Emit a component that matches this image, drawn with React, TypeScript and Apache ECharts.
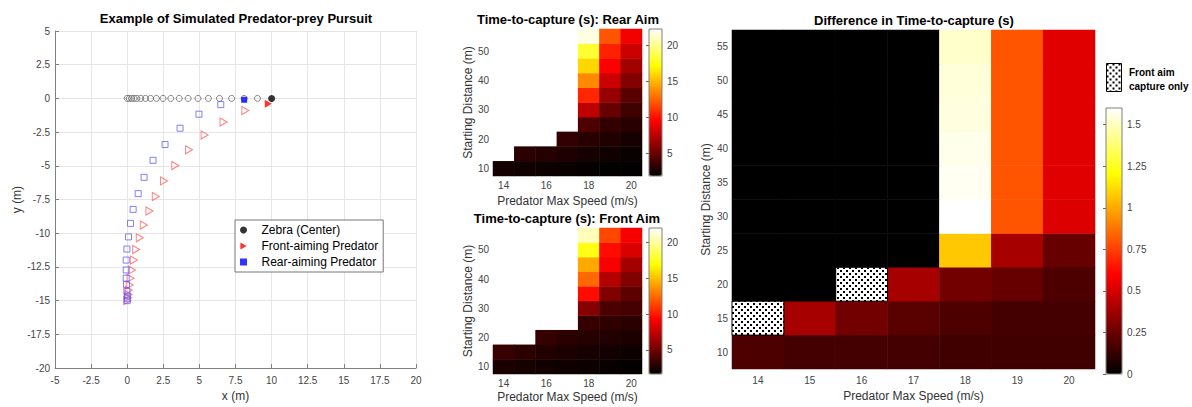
import React, { useEffect, useRef } from 'react';
import * as echarts from 'echarts';

const FONT = "'Liberation Sans', Arial, Helvetica, sans-serif";

// ---------- Data: pursuit example ----------
const zebraTrailX = [0, 0.14, 0.3, 0.47, 0.67, 0.94, 1.26, 1.62, 2.02, 2.48, 3.02, 3.6, 4.22, 4.9, 5.62, 6.39, 7.23, 8.1, 9.02];
const zebraFinal = [10, 0];
const frontTrail = [
  [8.18, -0.9], [6.67, -1.75], [5.36, -2.72], [4.28, -3.81], [3.33, -4.98], [2.55, -6.12], [1.98, -7.28],
  [1.54, -8.35], [1.15, -9.39], [0.87, -10.34], [0.62, -11.21], [0.46, -11.99], [0.34, -12.72], [0.23, -13.33],
  [0.18, -13.83], [0.11, -14.22], [0.09, -14.54], [0.05, -14.78], [0, -15],
];
const frontFinal = [9.77, -0.39];
const rearTrail = [
  [6.48, -0.46], [4.97, -1.17], [3.66, -2.21], [2.62, -3.42], [1.79, -4.59], [1.17, -5.85], [0.76, -7.06],
  [0.41, -8.23], [0.23, -9.27], [0.09, -10.27], [-0.02, -11.17], [-0.07, -11.99], [-0.07, -12.72], [-0.07, -13.33],
  [-0.05, -13.81], [-0.02, -14.3], [0, -14.66], [0.02, -14.86], [0, -15],
];
const rearFinal = [8.1, -0.1];

// ---------- Data: heatmaps ----------
const speeds = ['14', '15', '16', '17', '18', '19', '20'];
const distances = ['10', '15', '20', '25', '30', '35', '40', '45', '50', '55'];

// rows = distances (10..55), cols = speeds (14..20); null = no capture
const rearTTC: (number | null)[][] = [
  [2.5, 2.4, 2.3, 2.2, 2.1, 2.0, 1.95],
  [null, 3.2, 3.0, 2.8, 2.6, 2.4, 2.2],
  [null, null, null, 3.4, 3.1, 2.9, 2.6],
  [null, null, null, null, 4.2, 3.4, 3.1],
  [null, null, null, null, 7.6, 5.0, 3.8],
  [null, null, null, null, 10.7, 6.4, 4.6],
  [null, null, null, null, 13.7, 8.0, 5.8],
  [null, null, null, null, 16.0, 9.5, 6.8],
  [null, null, null, null, 18.2, 10.5, 8.0],
  [null, null, null, null, 21.7, 12.1, 9.2],
];
const frontTTC: (number | null)[][] = [
  [2.5, 2.3, 2.2, 2.1, 2.0, 1.9, 1.8],
  [3.3, 3.0, 2.7, 2.5, 2.3, 2.2, 2.1],
  [null, null, 3.2, 2.9, 2.8, 2.6, 2.5],
  [null, null, null, null, 3.3, 3.1, 2.9],
  [null, null, null, null, 5.7, 3.9, 3.7],
  [null, null, null, null, 9.6, 5.5, 4.4],
  [null, null, null, null, 12.4, 7.0, 5.5],
  [null, null, null, null, 14.3, 9.0, 6.6],
  [null, null, null, null, 17.3, 9.6, 8.2],
  [null, null, null, null, 20.6, 11.4, 9.0],
];
const diffTTC: (number | null)[][] = [
  [0.18, 0.16, 0.16, 0.16, 0.15, 0.15, 0.15],
  [null, 0.39, 0.27, 0.21, 0.18, 0.16, 0.16],
  [0, 0, null, 0.39, 0.27, 0.24, 0.18],
  [0, 0, 0, 0, 1.07, 0.39, 0.24],
  [0, 0, 0, 0, 1.6, 0.8, 0.52],
  [0, 0, 0, 0, 1.58, 0.8, 0.53],
  [0, 0, 0, 0, 1.57, 0.8, 0.53],
  [0, 0, 0, 0, 1.55, 0.8, 0.53],
  [0, 0, 0, 0, 1.54, 0.8, 0.53],
  [0, 0, 0, 0, 1.52, 0.8, 0.53],
];
const frontOnlyCells = [['14', '15'], ['16', '20']];

const rearRange = [1.9, 22.3];
const frontRange = [1.65, 22.0];
const diffRange = [0, 1.6];
const ttcTicks = [5, 10, 15, 20];
const diffTicks = [0, 0.25, 0.5, 0.75, 1, 1.25, 1.5];

const HOT = ['#000000', '#550000', '#aa0000', '#ff0000', '#ff5500', '#ffaa00', '#ffff00', '#ffff80', '#ffffff'];

function toCells(m: (number | null)[][]) {
  const out: number[][] = [];
  m.forEach((row, yi) => row.forEach((v, xi) => { if (v !== null) out.push([xi, yi, v]); }));
  return out;
}

function makePattern() {
  const c = document.createElement('canvas');
  c.width = 6; c.height = 6;
  const ctx = c.getContext('2d')!;
  ctx.fillStyle = '#ffffff';
  ctx.fillRect(0, 0, 6, 6);
  ctx.fillStyle = '#000000';
  ctx.fillRect(0, 0, 2, 2);
  ctx.fillRect(3, 3, 2, 2);
  return { image: c.toDataURL(), repeat: 'repeat', imageWidth: 6, imageHeight: 6 } as any;
}

export default function App() {
  const ref = useRef<HTMLDivElement>(null);
  useEffect(() => {
    document.body.style.margin = '0';
    const chart = echarts.init(ref.current!, null, { renderer: 'svg' });
    const pattern = makePattern();
    const tickColor = '#444';
    const labelStyle = { color: tickColor, fontFamily: FONT, fontSize: 10 };
    const nameStyle = { color: '#333', fontFamily: FONT, fontSize: 12 };

    const heatX = (gi: number, showAll: boolean, name: string, gap: number, margin: number) => ({
      type: 'category', gridIndex: gi, data: speeds,
      axisLine: { show: false }, axisTick: { show: false }, splitLine: { show: false },
      axisLabel: { ...labelStyle, interval: showAll ? 0 : 1, margin },
      name, nameLocation: 'middle', nameGap: gap, nameTextStyle: nameStyle,
    });
    const heatY = (gi: number, showAll: boolean, gap: number) => ({
      type: 'category', gridIndex: gi, data: distances,
      axisLine: { show: false }, axisTick: { show: false }, splitLine: { show: false },
      axisLabel: { ...labelStyle, interval: showAll ? 0 : 1, margin: 4 },
      name: 'Starting Distance (m)', nameLocation: 'middle', nameGap: gap, nameTextStyle: nameStyle,
    });
    const cbX = (gi: number) => ({ type: 'value', gridIndex: gi, show: false, min: 0, max: 1 });
    const cbY = (gi: number, range: number[], ticks: number[]) => ({
      type: 'value', gridIndex: gi, min: range[0], max: range[1], position: 'right',
      axisLine: { show: false }, splitLine: { show: false },
      axisTick: { show: true, inside: true, length: 3, customValues: ticks, lineStyle: { color: '#666' } },
      axisLabel: { ...labelStyle, customValues: ticks, margin: 5 },
    });
    const cbGrid = (left: number, top: number, width: number, height: number) => ({
      left, top, width, height, show: true, borderColor: '#808080', borderWidth: 1,
      backgroundColor: 'transparent', z: 10,
    });

    const triPath = 'path://M0,0L9,5L0,10Z';
    const sqPath = 'path://M0,0L10,0L10,10L0,10Z';

    chart.setOption({
      animation: false,
      textStyle: { fontFamily: FONT },
      title: [
        { text: 'Example of Simulated Predator-prey Pursuit', left: 236, top: 12, textAlign: 'center', padding: 0,
          textStyle: { fontSize: 13, fontWeight: 'bold', color: '#000', fontFamily: FONT } },
        { text: 'Time-to-capture (s): Rear Aim', left: 568, top: 13, textAlign: 'center', padding: 0,
          textStyle: { fontSize: 13, fontWeight: 'bold', color: '#000', fontFamily: FONT } },
        { text: 'Time-to-capture (s): Front Aim', left: 567, top: 212, textAlign: 'center', padding: 0,
          textStyle: { fontSize: 13, fontWeight: 'bold', color: '#000', fontFamily: FONT } },
        { text: 'Difference in Time-to-capture (s)', left: 914, top: 14, textAlign: 'center', padding: 0,
          textStyle: { fontSize: 13, fontWeight: 'bold', color: '#000', fontFamily: FONT } },
      ],
      legend: {
        data: [
          { name: 'Zebra (Center)', icon: 'circle' },
          { name: 'Front-aiming Predator', icon: triPath },
          { name: 'Rear-aiming Predator', icon: sqPath },
        ],
        orient: 'vertical', left: 235, top: 220, itemWidth: 26, itemHeight: 7, itemGap: 0,
        padding: [2, 5, 2, 5], borderColor: '#777', borderWidth: 1, backgroundColor: '#fff',
        selectedMode: false, symbolKeepAspect: true,
        textStyle: { fontFamily: FONT, fontSize: 12, color: '#000', lineHeight: 16 },
      },
      grid: [
        { left: 55, top: 31, width: 361, height: 343 },
        { left: 493, top: 29, width: 149, height: 147 },
        { left: 493, top: 228, width: 149, height: 146 },
        { left: 732, top: 30, width: 363, height: 343 },
        cbGrid(649, 29, 13, 147),
        cbGrid(649, 228, 13, 146),
        cbGrid(1106, 108, 16, 266),
      ],
      xAxis: [
        {
          type: 'value', gridIndex: 0, min: -5, max: 20, interval: 2.5,
          axisLine: { show: true, onZero: false, lineStyle: { color: '#808080' } },
          axisTick: { show: true, inside: true, length: 4, lineStyle: { color: '#808080' } },
          splitLine: { show: true, lineStyle: { color: '#e6e6e6' } },
          axisLabel: { ...labelStyle, margin: 7 },
          name: 'x (m)', nameLocation: 'middle', nameGap: 19, nameTextStyle: nameStyle,
        },
        heatX(1, false, 'Predator Max Speed (m/s)', 19, 4),
        heatX(2, false, 'Predator Max Speed (m/s)', 17, 4),
        heatX(3, true, 'Predator Max Speed (m/s)', 21, 6),
        cbX(4), cbX(5), cbX(6),
      ],
      yAxis: [
        {
          type: 'value', gridIndex: 0, min: -20, max: 5, interval: 2.5,
          axisLine: { show: true, onZero: false, lineStyle: { color: '#808080' } },
          axisTick: { show: true, inside: true, length: 4, lineStyle: { color: '#808080' } },
          splitLine: { show: true, lineStyle: { color: '#e6e6e6' } },
          axisLabel: { ...labelStyle, margin: 5 },
          name: 'y (m)', nameLocation: 'middle', nameGap: 30, nameTextStyle: nameStyle,
        },
        heatY(1, false, 18),
        heatY(2, false, 18),
        heatY(3, true, 20),
        cbY(4, rearRange, ttcTicks),
        cbY(5, frontRange, ttcTicks),
        cbY(6, diffRange, diffTicks),
      ],
      visualMap: [
        { type: 'continuous', seriesIndex: 6, min: rearRange[0], max: rearRange[1], inRange: { color: HOT },
          left: 649, top: 29, itemWidth: 13, itemHeight: 147, calculable: false, padding: 0, hoverLink: false },
        { type: 'continuous', seriesIndex: 7, min: frontRange[0], max: frontRange[1], inRange: { color: HOT },
          left: 649, top: 228, itemWidth: 13, itemHeight: 146, calculable: false, padding: 0, hoverLink: false },
        { type: 'continuous', seriesIndex: 8, min: diffRange[0], max: diffRange[1], inRange: { color: HOT },
          left: 1106, top: 108, itemWidth: 16, itemHeight: 266, calculable: false, padding: 0, hoverLink: false },
      ],
      graphic: [
        { type: 'rect', left: 1106, top: 63, shape: { width: 15, height: 28 },
          style: { fill: pattern, stroke: '#000', lineWidth: 1 } },
        { type: 'text', left: 1129, top: 67, style: { text: 'Front aim', font: `bold 10px ${FONT}`, fill: '#000' } },
        { type: 'text', left: 1129, top: 81, style: { text: 'capture only', font: `bold 10px ${FONT}`, fill: '#000' } },
      ],
      series: [
        { type: 'scatter', name: 'zebraTrail', xAxisIndex: 0, yAxisIndex: 0, symbol: 'circle', symbolSize: 6,
          itemStyle: { color: 'rgba(0,0,0,0)', borderColor: '#666', borderWidth: 1 },
          data: zebraTrailX.map((x) => [x, 0]) },
        { type: 'scatter', name: 'frontTrail', xAxisIndex: 0, yAxisIndex: 0, symbol: triPath, symbolSize: [7, 8],
          itemStyle: { color: 'rgba(0,0,0,0)', borderColor: '#ff6060', borderWidth: 1 },
          data: frontTrail },
        { type: 'scatter', name: 'rearTrail', xAxisIndex: 0, yAxisIndex: 0, symbol: 'rect', symbolSize: 6,
          itemStyle: { color: 'rgba(0,0,0,0)', borderColor: '#6060ff', borderWidth: 1 },
          data: rearTrail },
        { type: 'scatter', name: 'Zebra (Center)', xAxisIndex: 0, yAxisIndex: 0, symbol: 'circle', symbolSize: 7,
          itemStyle: { color: '#000' }, data: [zebraFinal] },
        { type: 'scatter', name: 'Front-aiming Predator', xAxisIndex: 0, yAxisIndex: 0, symbol: triPath, symbolSize: [7, 8],
          itemStyle: { color: '#ff0000' }, data: [frontFinal] },
        { type: 'scatter', name: 'Rear-aiming Predator', xAxisIndex: 0, yAxisIndex: 0, symbol: 'rect', symbolSize: 6,
          itemStyle: { color: '#0000ff' }, data: [rearFinal] },
        { type: 'heatmap', name: 'rear', xAxisIndex: 1, yAxisIndex: 1, data: toCells(rearTTC) },
        { type: 'heatmap', name: 'front', xAxisIndex: 2, yAxisIndex: 2, data: toCells(frontTTC) },
        { type: 'heatmap', name: 'diff', xAxisIndex: 3, yAxisIndex: 3, data: toCells(diffTTC) },
        { type: 'custom', name: 'frontOnly', xAxisIndex: 3, yAxisIndex: 3,
          data: frontOnlyCells.map(([s, d]) => [speeds.indexOf(s), distances.indexOf(d)]),
          renderItem: (params: any, api: any) => {
            const c = api.coord([api.value(0), api.value(1)]);
            const s = api.size([1, 1]);
            return {
              type: 'rect',
              shape: { x: c[0] - s[0] / 2, y: c[1] - s[1] / 2, width: s[0], height: s[1] },
              style: { fill: pattern, stroke: '#000', lineWidth: 1 },
            };
          } },
      ],
    });
    return () => chart.dispose();
  }, []);
  return <div ref={ref} style={{ width: 1192, height: 407 }} />;
}
